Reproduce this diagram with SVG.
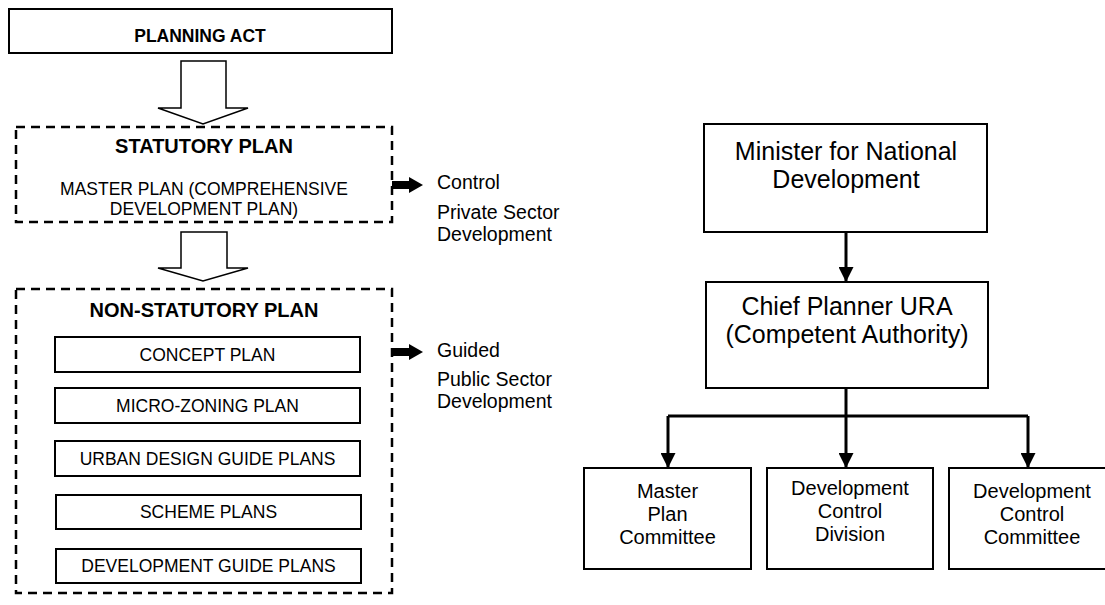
<svg xmlns="http://www.w3.org/2000/svg" width="1105" height="605" viewBox="0 0 1105 605">
<defs>
<style>
.box{fill:#fff;stroke:#000;stroke-width:2}
.dash{fill:none;stroke:#000;stroke-width:2.5;stroke-dasharray:9 6}
.blk{fill:#fff;stroke:#000;stroke-width:1.5;stroke-linejoin:miter}
.ln{fill:none;stroke:#000;stroke-width:3}
.t{font-family:"Liberation Sans",Arial,sans-serif;fill:#000;text-anchor:middle}
.tl{font-family:"Liberation Sans",Arial,sans-serif;fill:#000}
.b{font-weight:bold}
</style>
<marker id="ah" viewBox="0 0 10 10" refX="10" refY="5" markerWidth="5" markerHeight="5" markerUnits="strokeWidth" orient="auto">
<path d="M0,0 L10,5 L0,10 Z" fill="#000"/>
</marker>
</defs>
<rect width="1105" height="605" fill="#fff"/>

<g id="connectors">
<path class="blk" d="M181,61 H226 V108 H248 L203,124 L158,108 H181 Z"/>
<path class="blk" d="M181,232 H227 V268 H248 L203,281 L158,268 H181 Z"/>
<path d="M392,181 H409 V177 L423,185 L409,193 V189 H392 Z" fill="#000"/>
<path d="M392,348 H409 V344 L423,352 L409,360 V356 H392 Z" fill="#000"/>
<line class="ln" x1="846" y1="232" x2="846" y2="282" marker-end="url(#ah)"/>
<line class="ln" x1="846" y1="388" x2="846" y2="468" marker-end="url(#ah)"/>
<line class="ln" x1="668" y1="416" x2="1028" y2="416"/>
<line class="ln" x1="668" y1="416" x2="668" y2="468" marker-end="url(#ah)"/>
<line class="ln" x1="1028" y1="416" x2="1028" y2="468" marker-end="url(#ah)"/>
</g>

<g id="planning-act">
<rect class="box" x="9" y="9" width="383" height="44"/>
<text class="t b" x="200" y="42" font-size="17.5">PLANNING ACT</text>
</g>

<g id="statutory-plan">
<rect class="dash" x="16" y="127" width="376" height="95"/>
<text class="t b" x="204" y="153" font-size="20">STATUTORY PLAN</text>
<text class="t" x="204" y="195" font-size="17.5">MASTER PLAN (COMPREHENSIVE</text>
<text class="t" x="204" y="215" font-size="17.5">DEVELOPMENT PLAN)</text>
</g>

<g id="control-label">
<text class="tl" x="437" y="189" font-size="19.5">Control</text>
<text class="tl" x="437" y="219" font-size="19.5">Private Sector</text>
<text class="tl" x="437" y="241" font-size="19.5">Development</text>
</g>

<g id="non-statutory-plan">
<rect class="dash" x="16" y="289" width="376" height="304"/>
<text class="t b" x="204" y="317" font-size="20">NON-STATUTORY PLAN</text>
</g>

<g id="concept-plan">
<rect class="box" x="55" y="337" width="305" height="35"/>
<text class="t" x="207.5" y="361" font-size="17.5">CONCEPT PLAN</text>
</g>
<g id="micro-zoning-plan">
<rect class="box" x="55" y="388" width="305" height="35"/>
<text class="t" x="207.5" y="412" font-size="17.5">MICRO-ZONING PLAN</text>
</g>
<g id="urban-design-guide-plans">
<rect class="box" x="55" y="441" width="305" height="35"/>
<text class="t" x="207.5" y="465" font-size="17.5">URBAN DESIGN GUIDE PLANS</text>
</g>
<g id="scheme-plans">
<rect class="box" x="56" y="495" width="305" height="34"/>
<text class="t" x="208.5" y="518" font-size="17.5">SCHEME PLANS</text>
</g>
<g id="development-guide-plans">
<rect class="box" x="56" y="549" width="305" height="34"/>
<text class="t" x="208.5" y="572" font-size="17.5">DEVELOPMENT GUIDE PLANS</text>
</g>

<g id="guided-label">
<text class="tl" x="437" y="357" font-size="19.5">Guided</text>
<text class="tl" x="437" y="386" font-size="19.5">Public Sector</text>
<text class="tl" x="437" y="408" font-size="19.5">Development</text>
</g>

<g id="minister">
<rect class="box" x="704" y="124" width="283" height="108"/>
<text class="t" x="846" y="160" font-size="25">Minister for National</text>
<text class="t" x="846" y="188" font-size="25">Development</text>
</g>

<g id="chief-planner">
<rect class="box" x="706" y="282" width="282" height="106"/>
<text class="t" x="847" y="315" font-size="25">Chief Planner URA</text>
<text class="t" x="847" y="343" font-size="25">(Competent Authority)</text>
</g>

<g id="master-plan-committee">
<rect class="box" x="584" y="468" width="167" height="101"/>
<text class="t" x="667.5" y="498" font-size="20">Master</text>
<text class="t" x="667.5" y="521" font-size="20">Plan</text>
<text class="t" x="667.5" y="544" font-size="20">Committee</text>
</g>

<g id="development-control-division">
<rect class="box" x="767" y="468" width="166" height="101"/>
<text class="t" x="850" y="495" font-size="20">Development</text>
<text class="t" x="850" y="518" font-size="20">Control</text>
<text class="t" x="850" y="541" font-size="20">Division</text>
</g>

<g id="development-control-committee">
<rect class="box" x="949" y="468" width="166" height="101"/>
<text class="t" x="1032" y="498" font-size="20">Development</text>
<text class="t" x="1032" y="521" font-size="20">Control</text>
<text class="t" x="1032" y="544" font-size="20">Committee</text>
</g>
</svg>
